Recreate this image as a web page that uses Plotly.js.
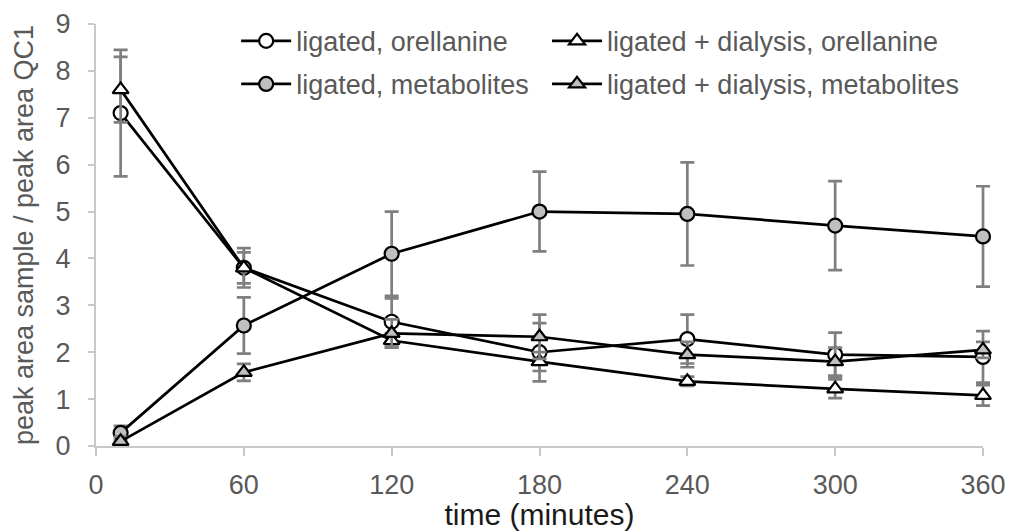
<!DOCTYPE html>
<html>
<head>
<meta charset="utf-8">
<script src="https://cdn.plot.ly/plotly-3.0.1.min.js"></script>
<style>html,body{margin:0;padding:0;background:#fff;}#chart{width:1011px;height:531px;}</style>
</head>
<body>
<div id="chart"></div>
<script>
// time points (minutes)
const time = [10, 60, 120, 180, 240, 300, 360];
const xTicks = [0, 60, 120, 180, 240, 300, 360];

// ligated, orellanine (white circles)
const ligOrell    = [7.1, 3.8, 2.65, 2.0, 2.28, 1.95, 1.9];
const ligOrellErr = [1.35, 0.42, 0.5, 0.62, 0.52, 0.47, 0.55];

// ligated + dialysis, orellanine (white triangles)
const dialOrell    = [7.6, 3.8, 2.25, 1.8, 1.38, 1.22, 1.08];
const dialOrellErr = [0.7, 0.33, 0.15, 0.2, 0.1, 0.2, 0.22];

// ligated, metabolites (grey circles)
const ligMetab    = [0.28, 2.57, 4.1, 5.0, 4.95, 4.7, 4.47];
const ligMetabErr = [0.15, 0.6, 0.9, 0.85, 1.1, 0.95, 1.07];

// ligated + dialysis, metabolites (grey triangles)
const dialMetab    = [0.1, 1.57, 2.4, 2.33, 1.95, 1.8, 2.05];
const dialMetabErr = [0.1, 0.18, 0.3, 0.47, 0.27, 0.3, 0.17];

const names = ['ligated, orellanine', 'ligated + dialysis, orellanine',
               'ligated, metabolites', 'ligated + dialysis, metabolites'];

const FONT = '"Liberation Sans", Arial, sans-serif';
const GREYFILL = '#bfbfbf';

function series(y, err, name, symbol, fill, legend) {
  return {
    x: time, y: y, name: name, type: 'scatter', mode: 'lines+markers',
    legend: legend, cliponaxis: false,
    line: {color: '#000', width: 2.7},
    marker: {symbol: symbol, size: 14, color: fill, line: {color: '#000', width: 2.2}},
    error_y: {type: 'data', array: err, visible: true, color: '#7f7f7f', thickness: 2.7, width: 7}
  };
}

const data = [
  series(ligOrell,  ligOrellErr,  names[0], 'circle',      '#ffffff', 'legend'),
  series(dialOrell, dialOrellErr, names[1], 'triangle-up', '#ffffff', 'legend2'),
  series(ligMetab,  ligMetabErr,  names[2], 'circle',      GREYFILL,  'legend3'),
  series(dialMetab, dialMetabErr, names[3], 'triangle-up', GREYFILL,  'legend4')
];

const legendBase = {
  orientation: 'h', xanchor: 'left', yanchor: 'top',
  font: {family: FONT, size: 27, color: '#595959'},
  bgcolor: 'rgba(0,0,0,0)', itemwidth: 50
};
const col1 = 0.158, col2 = 0.5085, row1 = 1.017, row2 = 0.915;

const layout = {
  width: 1011, height: 531,
  margin: {l: 96, r: 28, t: 24, b: 85},
  paper_bgcolor: '#fff', plot_bgcolor: '#fff',
  font: {family: FONT, size: 26, color: '#595959'},
  showlegend: true,
  legend:  Object.assign({}, legendBase, {x: col1, y: row1}),
  legend2: Object.assign({}, legendBase, {x: col2, y: row1}),
  legend3: Object.assign({}, legendBase, {x: col1, y: row2}),
  legend4: Object.assign({}, legendBase, {x: col2, y: row2}),
  xaxis: {
    range: [0, 360], tickmode: 'array', tickvals: xTicks,
    showgrid: false, zeroline: false, showline: true, linecolor: '#c8c8c8', linewidth: 2,
    ticks: 'outside', ticklen: 8, tickwidth: 2, tickcolor: '#c8c8c8',
    ticklabelstandoff: 6,
    tickfont: {family: FONT, size: 27, color: '#595959'},
    title: {text: 'time (minutes)', font: {family: FONT, size: 30, color: '#1a1a1a'}, standoff: 4}
  },
  yaxis: {
    range: [0, 9], dtick: 1,
    showgrid: false, zeroline: false, showline: true, linecolor: '#c8c8c8', linewidth: 2,
    ticks: 'outside', ticklen: 6, tickwidth: 2, tickcolor: '#c8c8c8',
    ticklabelstandoff: 12,
    tickfont: {family: FONT, size: 27, color: '#595959'},
    title: {text: 'peak area sample / peak area QC1', font: {family: FONT, size: 27, color: '#595959'}, standoff: 14}
  }
};

Plotly.newPlot('chart', data, layout, {displayModeBar: false, staticPlot: true}).then(function (gd) {
  // let error-bar caps at the plot edge show fully (as in the original)
  gd.querySelectorAll('.scatterlayer [clip-path], .scatterlayer').forEach(function (el) {
    el.removeAttribute('clip-path');
  });
  var p = gd.querySelector('.scatterlayer');
  while (p && p.tagName !== 'svg') {
    if (p.removeAttribute) p.removeAttribute('clip-path');
    p = p.parentNode;
  }
});
</script>
</body>
</html>
